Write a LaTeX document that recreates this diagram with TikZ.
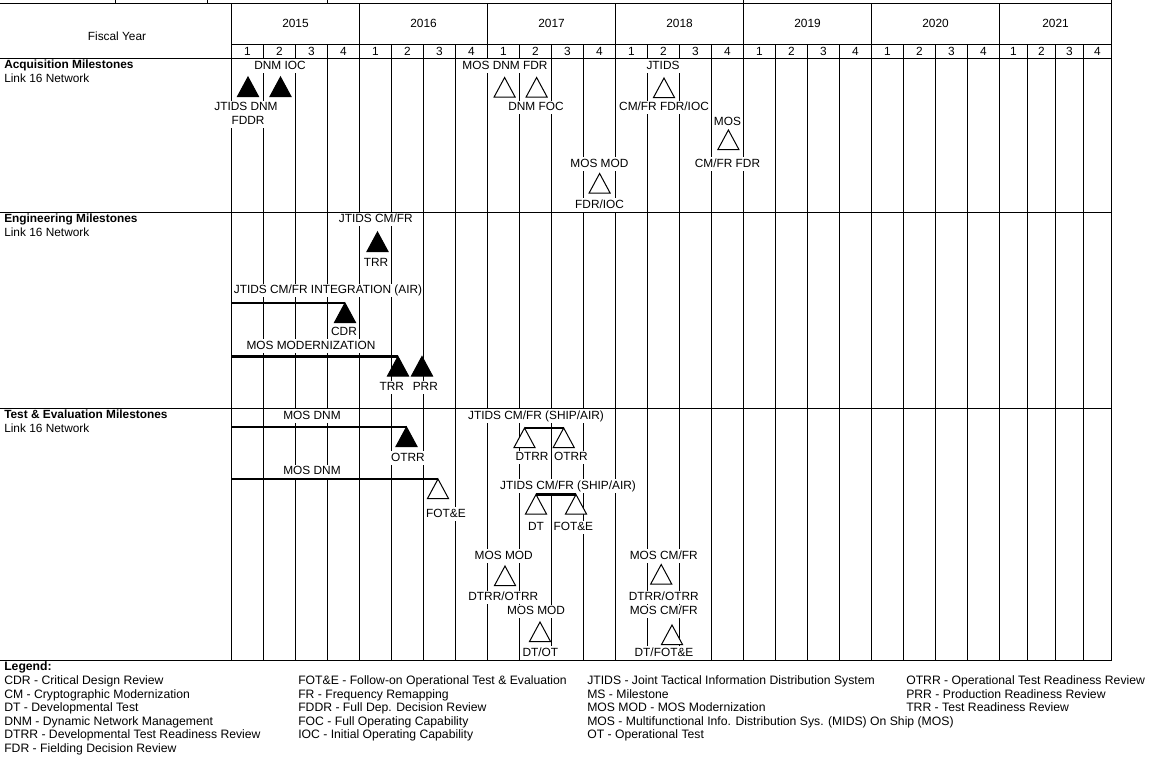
\documentclass[tikz,border=0pt]{standalone}
\usepackage{fontspec}
\setmainfont{Liberation Sans}
\begin{document}
\begin{tikzpicture}[x=0.75pt,y=-0.75pt,
  gridline/.style={line width=0.75pt},
  txt/.style={font=\fontsize{8.9}{10}\selectfont, text height=6.5pt, text depth=1.9pt},
  lbl/.style={txt, fill=white, inner xsep=0.8pt, inner ysep=0.9pt},
  hdr/.style={txt, inner sep=0pt},
  rowlbl/.style={txt, anchor=west, inner sep=0pt},
  rowtitle/.style={rowlbl, font=\fontsize{8.9}{10}\selectfont\bfseries},
  leg/.style={anchor=west, inner sep=0pt, font=\fontsize{9.15}{10}\selectfont, text height=6.6pt, text depth=1.9pt},
  bar/.style={line width=1.6pt},
  openms/.style={draw=black, fill=white, line width=0.75pt},
  fillms/.style={draw=black, fill=black, line width=0.75pt},
  tri/.pic={\path[pic actions] (0,0) -- (-10.5,19.5) -- (10.5,19.5) -- cycle; \coordinate (-apex) at (0,0);}
]
\useasboundingbox (0,0) rectangle (1153,757);
\fill[white] (0,0) rectangle (1153,757);

% ---------------- grid ----------------
\draw[gridline] (0,3) -- (1111.5,3);
\foreach \x in {115,207,327.5,743.5} \draw[gridline] (\x,0) -- (\x,3);
\draw[gridline] (1111.5,0) -- (1111.5,660);
\foreach \x in {231.5,359.5,487.5,615.5,743.5,871.5,999.5} \draw[gridline] (\x,3) -- (\x,660);
\foreach \x in {263.5,295.5,327.5,391.5,423.5,455.5,519.5,551.5,583.5,647.5,679.5,711.5,775.5,807.5,839.5,903.5,935.5,967.5,1027.5,1055.5,1083.5}
  \draw[gridline] (\x,44) -- (\x,660);
\draw[gridline] (231.5,44) -- (1111.5,44);
\foreach \y in {58,212.5,408,660} \draw[gridline] (0,\y) -- (1111.5,\y);

% ---------------- header ----------------
\node[hdr] (fy) at (117,37) {Fiscal Year};
\foreach \yr/\cx in {2015/295.5,2016/423.5,2017/551.5,2018/679.5,2019/807.5,2020/935.5,2021/1055.5}
  \node[hdr] (y\yr) at (\cx,24) {\yr};
\foreach \k in {0,...,5} \foreach \q in {1,...,4}
  \node[hdr] (q\k\q) at ({231.5+128*\k+32*\q-16},52) {\q};
\foreach \q in {1,...,4}
  \node[hdr] (q6\q) at ({999.5+28*\q-14},52) {\q};

% ---------------- row titles ----------------
\node[rowtitle] (acqT) at (4,65.5) {Acquisition Milestones};
\node[rowlbl] (acqS) at (4,79.5) {Link 16 Network};
\node[rowtitle] (engT) at (4,219.5) {Engineering Milestones};
\node[rowlbl] (engS) at (4,233.5) {Link 16 Network};
\node[rowtitle] (teT) at (4,415.5) {Test \& Evaluation Milestones};
\node[rowlbl] (teS) at (4,429.5) {Link 16 Network};

% ---------------- bar start points ----------------
\coordinate (b1) at (231.5,303);
\coordinate (b2) at (231.5,356.5);
\coordinate (b3) at (231.5,427);
\coordinate (b4) at (231.5,479);

% ---------------- acquisition ----------------
\pic[fillms] (t1) at (248,77) {tri};
\pic[fillms] (t2) at (280.5,77) {tri};
\node[lbl] (l1) at (280,66) {DNM IOC};
\node[lbl] (l2) at (246,107.5) {JTIDS DNM};
\node[lbl] (l3) at (248,121) {FDDR};

\pic[openms] (t3) at (504.6,77.5) {tri};
\pic[openms] (t4) at (536.6,77.5) {tri};
\node[lbl] (l4) at (505,66) {MOS DNM FDR};
\node[lbl] (l5) at (536,107.5) {DNM FOC};

\pic[openms] (t5) at (664,78) {tri};
\node[lbl] (l6) at (663,66) {JTIDS};
\node[lbl] (l7) at (664,107.5) {CM/FR FDR/IOC};

\pic[openms] (t6) at (728.4,130) {tri};
\node[lbl] (l8) at (727.5,122) {MOS};
\node[lbl] (l9) at (727.5,164) {CM/FR FDR};

\pic[openms] (t7) at (599.6,173.5) {tri};
\node[lbl] (l10) at (599.4,164) {MOS MOD};
\node[lbl] (l11) at (599.6,205) {FDR/IOC};

% ---------------- engineering ----------------
\pic[fillms] (t8) at (377.5,232) {tri};
\node[lbl] (l12) at (375.8,219.3) {JTIDS CM/FR};
\node[lbl] (l13) at (376,263.5) {TRR};

\pic[fillms] (t9) at (345,303) {tri};
\draw[bar] (b1) -- (t9-apex);
\node[lbl] (l14) at (328,290.3) {JTIDS CM/FR INTEGRATION (AIR)};
\node[lbl] (l15) at (344,332.5) {CDR};

\pic[fillms] (t10) at (398,356.5) {tri};
\pic[fillms] (t11) at (422,356.5) {tri};
\draw[bar] (b2) -- (t10-apex);
\node[lbl] (l16) at (311,346) {MOS MODERNIZATION};
\node[lbl] (l17) at (391.7,387.5) {TRR};
\node[lbl] (l18) at (425.3,387.5) {PRR};

% ---------------- test & evaluation ----------------
\pic[fillms] (t12) at (406.5,427) {tri};
\draw[bar] (b3) -- (t12-apex);
\node[lbl] (l19) at (312,416) {MOS DNM};
\node[lbl] (l20) at (408,458) {OTRR};

\pic[openms] (t13) at (438,479) {tri};
\draw[bar] (b4) -- (t13-apex);
\node[lbl] (l21) at (312,471.5) {MOS DNM};
\node[lbl] (l22) at (446,514) {FOT\&E};

\pic[openms] (t14) at (524.5,428) {tri};
\pic[openms] (t15) at (563.7,428) {tri};
\draw[bar] (t14-apex) -- (t15-apex);
\node[lbl] (l23) at (536,416) {JTIDS CM/FR (SHIP/AIR)};
\node[lbl] (l24) at (532,457.5) {DTRR};
\node[lbl] (l25) at (571,457.5) {OTRR};

\pic[openms] (t16) at (536,494.5) {tri};
\pic[openms] (t17) at (576,494.5) {tri};
\draw[bar] (t16-apex) -- (t17-apex);
\node[lbl] (l26) at (568,486) {JTIDS CM/FR (SHIP/AIR)};
\node[lbl] (l27) at (536,527.5) {DT};
\node[lbl] (l28) at (573.3,527.5) {FOT\&E};

\pic[openms] (t18) at (505,566) {tri};
\node[lbl] (l29) at (503.7,556) {MOS MOD};
\node[lbl] (l30) at (503.3,597.5) {DTRR/OTRR};

\pic[openms] (t19) at (540,622) {tri};
\node[lbl] (l31) at (536,611.5) {MOS MOD};
\node[lbl] (l32) at (540.3,653) {DT/OT};

\pic[openms] (t20) at (661.2,564.5) {tri};
\node[lbl] (l33) at (663.8,556) {MOS CM/FR};
\node[lbl] (l34) at (663.7,597.5) {DTRR/OTRR};

\pic[openms] (t21) at (672,625) {tri};
\node[lbl] (l35) at (663.8,611.5) {MOS CM/FR};
\node[lbl] (l36) at (664,653) {DT/FOT\&E};

% ---------------- legend ----------------
\node[leg, font=\fontsize{9.15}{10}\selectfont\bfseries] (legT) at (4,667.5) {Legend:};
\foreach \t [count=\i] in {CDR - Critical Design Review, CM - Cryptographic Modernization, DT - Developmental Test, DNM - Dynamic Network Management, DTRR - Developmental Test Readiness Review, FDR - Fielding Decision Review}
  \node[leg] (lga\i) at (4,{681.5+13.5*(\i-1)}) {\t};
\foreach \t [count=\i] in {FOT\&E - Follow-on Operational Test \& Evaluation, FR - Frequency Remapping, FDDR - Full Dep. Decision Review, FOC - Full Operating Capability, IOC - Initial Operating Capability}
  \node[leg] (lgb\i) at (298,{681.5+13.5*(\i-1)}) {\t};
\foreach \t [count=\i] in {JTIDS - Joint Tactical Information Distribution System, MS - Milestone, MOS MOD - MOS Modernization, {MOS - Multifunctional Info. Distribution Sys. (MIDS) On Ship (MOS)}, OT - Operational Test}
  \node[leg] (lgc\i) at (587,{681.5+13.5*(\i-1)}) {\t};
\foreach \t [count=\i] in {OTRR - Operational Test Readiness Review, PRR - Production Readiness Review, TRR - Test Readiness Review}
  \node[leg] (lgd\i) at (906,{681.5+13.5*(\i-1)}) {\t};
\end{tikzpicture}
\end{document}
